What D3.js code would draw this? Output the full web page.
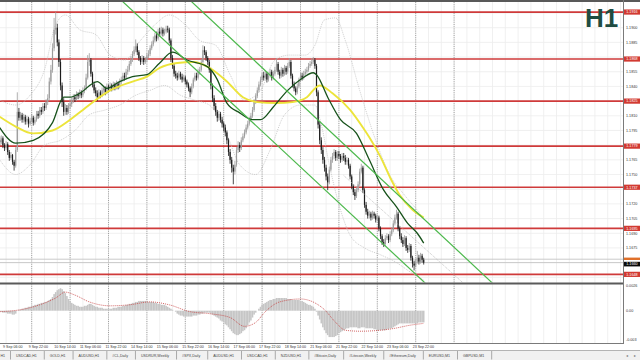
<!DOCTYPE html>
<html>
<head>
<meta charset="utf-8">
<script src="https://cdn.jsdelivr.net/npm/d3@7"></script>
<style>
  html, body { margin: 0; padding: 0; background: #fff; }
  svg { display: block; font-family: "Liberation Sans", Arial, sans-serif; }
</style>
</head>
<body>
<div id="chart"></div>
<script>
(function () {

  // Layout
  const W = 640, H = 360
  const axisX = 623
  const main = { top: 2, bottom: 282.5 }
  const sub = { top: 285, bottom: 343 }

  // ---- data (prices in pips above 1.1600, one value per H1 bar) ----
  const firstOpen = 185
  const closes = [
    183,187,180,177,181,173,167,170,163,159,
    175,214,208,211,206,209,204,207,202,205,
    208,203,206,212,210,216,214,220,218,224,
    228,245,257,279,298,300,285,265,241,224,
    214,218,214,220,222,226,229,227,232,230,
    234,231,236,238,249,265,267,253,242,236,
    233,229,234,231,236,238,234,240,237,241,
    238,242,239,243,240,245,247,251,249,255,
    257,263,267,273,277,281,275,269,265,269,
    265,267,271,273,279,283,287,292,289,296,
    294,298,294,296,299,298,287,269,261,253,
    251,249,253,250,247,249,245,242,238,234,
    240,247,251,249,255,257,265,277,275,269,
    265,257,241,228,220,214,208,212,206,202,
    198,193,185,173,165,157,153,160,175,180,
    177,185,189,193,198,202,206,210,216,224,
    230,236,242,247,251,249,253,247,251,255,
    249,253,257,263,255,251,257,253,259,255,
    261,265,251,242,238,234,240,247,251,249,
    253,255,257,261,263,265,267,261,234,201,
    185,175,165,157,148,142,155,165,169,173,
    167,171,169,165,169,167,163,165,159,148,
    138,132,128,134,140,153,157,134,119,112,
    108,110,106,110,108,104,106,95,87,81,
    79,85,87,83,89,93,100,106,110,95,
    87,83,79,85,75,73,77,65,59,57,
    61,65,61,67,63,60
  ]
  const highs = [
    189,190,189,182,184,183,175,173,171,165,
    178,234,218,214,213,212,211,210,209,208,
    212,210,209,215,215,219,219,223,223,227,
    232,249,262,284,310,316,304,288,268,244,
    228,222,221,223,226,229,232,232,235,234,
    237,236,239,241,253,272,274,269,255,245,
    239,236,237,236,239,241,240,243,242,244,
    243,245,244,246,245,248,250,254,254,258,
    261,266,271,276,281,288,284,277,271,272,
    271,270,274,277,282,286,291,295,296,299,
    300,301,300,299,302,302,300,289,272,263,
    256,254,256,255,253,252,251,247,244,240,
    243,249,254,254,258,260,268,282,281,277,
    271,267,259,243,231,223,216,215,214,209,
    204,201,195,187,176,168,160,164,178,184,
    183,188,192,196,201,205,209,213,219,227,
    233,239,245,250,254,255,256,255,254,258,
    257,256,260,269,265,257,260,259,262,261,
    264,269,267,253,245,240,243,249,254,254,
    256,258,260,264,266,269,270,269,263,236,
    204,188,178,168,160,151,158,168,172,176,
    175,174,174,171,172,172,170,168,167,161,
    150,140,135,137,143,156,161,159,136,122,
    115,113,112,113,112,110,109,108,97,89,
    84,88,90,89,92,96,103,109,114,112,
    97,90,86,88,87,78,80,79,67,62,
    64,72,68,70,69,65
  ]
  const lows = [
    180,181,177,174,175,170,164,165,160,154,
    157,173,205,205,203,203,201,201,198,200,
    203,200,201,204,207,208,211,212,215,216,
    221,226,242,254,276,293,281,260,236,219,
    210,211,211,212,217,219,223,224,225,227,
    228,228,229,233,236,247,261,250,239,233,
    230,225,227,228,229,233,231,232,234,235,
    235,236,236,237,237,238,242,245,246,247,
    252,255,261,265,271,275,272,266,262,263,
    262,263,265,269,271,277,281,285,286,287,
    291,292,291,292,294,295,284,265,258,250,
    248,246,247,247,244,245,242,239,235,229,
    232,238,245,246,247,252,255,263,272,266,
    262,254,237,224,216,210,204,205,203,198,
    194,189,181,169,161,152,140,150,158,172,
    173,175,183,187,191,196,200,204,208,214,
    222,228,234,240,245,246,247,244,245,249,
    246,247,251,255,252,248,249,250,251,252,
    253,259,248,239,235,231,232,238,245,246,
    247,251,253,255,259,261,263,258,230,197,
    181,171,161,153,144,134,140,153,162,166,
    164,164,166,162,163,164,160,160,156,145,
    135,129,124,126,132,138,151,131,116,109,
    105,105,103,104,105,101,102,92,84,78,
    76,77,83,80,81,87,91,98,104,92,
    84,80,76,77,72,70,71,62,55,52,
    55,59,58,59,60,58
  ]

  // moving averages and bands, [bar, pips]
  const maFast = [[0,198],[10,182],[21,185],[33,203],[40,229],[44,229],[50,233],[61,245],[67,238],
    [75,245],[83,250],[92,252],[100,264],[108,275],[117,267],[130,260],[136,247],[142,223],[150,213],
    [158,206],[163,206],[171,219],[180,236],[188,247],[196,254],[198,252],[205,229],[213,206],
    [223,192],[231,165],[240,134],[248,117],[255,100],[261,90],[265,80]]
  const maSlow = [[0,209],[10,199],[21,192],[33,195],[44,206],[52,216],[69,236],[83,245],[92,250],
    [100,259],[111,264],[121,265],[130,260],[133,257],[142,245],[152,229],[161,224],[173,223],
    [183,224],[192,229],[197,238],[200,241],[208,233],[219,216],[227,198],[231,188],[238,168],
    [244,147],[250,129],[258,114],[265,106]]
  const bandUpper = [[0,226],[10,221],[19,231],[28,257],[35,303],[41,313],[50,298],[60,293],[69,272],
    [78,267],[88,287],[97,303],[106,313],[116,303],[125,287],[135,282],[144,252],[153,226],[163,236],
    [172,267],[181,272],[191,272],[197,282],[203,308],[210,310],[216,287],[225,236],[235,185],
    [244,149],[253,129],[263,109],[265,104]]
  const bandLower = [[0,165],[10,150],[19,160],[28,180],[38,185],[47,195],[56,211],[66,216],[75,221],
    [85,231],[94,236],[103,241],[113,231],[122,226],[131,221],[141,195],[150,160],[160,150],
    [169,175],[178,211],[188,221],[197,221],[201,201],[206,160],[213,114],[219,88],[228,75],
    [238,68],[247,61],[257,50],[265,42]]

  // MACD histogram (x 0.0001) per bar, signal line [bar, value]
  const macdHist = [
    -1,-1,-2,-2,-2,-3,-3,-3,-4,-4,
    -3,0,1,
    1,2,2,3,3,4,4,5,5,6,6,7,7,
    8,8,9,9,10,11,12,14,17,19,21,22,23,22,
    20,18,15,12,10,8,7,6,5,5,4,
    4,4,5,5,6,7,7,6,5,4,4,3,
    3,3,2,2,2,2,2,2,3,3,3,4,4,
    4,5,5,6,6,7,7,8,8,9,9,10,10,10,10,
    10,10,9,9,9,9,8,8,7,7,
    6,6,6,5,4,3,2,1,0,-1,
    -3,-4,-5,-5,-6,-6,-6,-6,
    -6,-6,-5,-5,-5,-4,-4,-3,-3,-2,-2,-2,-2,
    -3,-4,-5,-6,-7,-8,-10,-11,-12,-14,-15,-17,-19,-21,-23,-24,-25,-25,-24,
    -23,-21,-20,-18,-15,-12,-10,-7,-4,-2,0,2,
    4,6,7,8,9,10,11,11,12,12,13,13,13,13,
    13,13,13,12,12,12,11,11,11,11,11,10,10,9,8,7,6,
    6,5,4,2,-1,-5,
    -9,-13,-17,-20,-23,-25,-27,-27,
    -27,-27,-26,-25,-23,-22,-21,-20,
    -19,-18,-18,-17,-17,-17,-17,-17,-18,-18,-17,-17,-17,-18,
    -18,-18,-18,-18,-19,-19,-20,-20,-20,-20,-20,
    -20,-19,-19,-18,-18,-17,-16,-15,-14,-13,
    -13,-13,-13,-13,-13,-13,-13,-13,-13,-13,-13,-12,-12,-12,-12
  ]
  const macdSignal = [[0,-1],[13,1],[25,6],[35,13],[41,19],[47,16],[56,9],[69,5],[81,6],[94,9],
    [106,6],[119,-1],[131,-3],[144,-7],[153,-16],[160,-12],[166,-1],[175,9],[188,12],[197,8],
    [203,1],[210,-12],[216,-20],[225,-21],[238,-20],[247,-18],[256,-15],[265,-13]]

  // drawn objects
  const levels = [1.1916, 1.1868, 1.1825, 1.1779, 1.1737, 1.1695, 1.1648]
  const channelLines = [[[76, 1.1928], [266, 1.1639]], [[119, 1.1928], [308, 1.1639]]]
  const channelMid = [[215, 1.1749], [300, 1.1624]]
  const bidPrice = 1.1660
  const askPrice = 1.16635

  // axis labels
  const priceTicks = ["1.1915","1.1900","1.1885","1.1870","1.1855","1.1840","1.1825","1.1810","1.1795",
    "1.1780","1.1765","1.1750","1.1735","1.1720","1.1705","1.1690","1.1675","1.1660","1.1645"]
  const timeLabels = ["9 Sep 06:00","9 Sep 22:00","10 Sep 14:00","11 Sep 06:00","11 Sep 22:00",
    "14 Sep 14:00","15 Sep 06:00","15 Sep 22:00","16 Sep 14:00","17 Sep 06:00","17 Sep 22:00",
    "18 Sep 14:00","21 Sep 06:00","21 Sep 22:00","22 Sep 14:00","23 Sep 06:00","23 Sep 22:00"]
  const macdTicks = [["0.0026", 0.0026], ["0.00", 0], ["-0.003", -0.003]]
  const tabs = ["H1","USDCAD,H1","GOLD,H1","AUDUSD,H1","#CL,Daily","USDRUR,Weekly","#SPX,Daily",
    "AUDUSD,H1","USDCAD,H1","NZDUSD,H1","#Bitcoin,Daily","#Litecoin,Weekly","#Ethereum,Daily",
    "EURUSD,M1","GBPUSD,M1"]

  const px = v => 1.16 + v / 10000

  // Scales
  const x = d3.scaleLinear().domain([0, 265]).range([-0.3, 423.7])
  const y = d3.scaleLinear().domain([1.1645, 1.1900]).range([277.3, 27.7])
  const ym = d3.scaleLinear().domain([-0.003, 0.0026]).range([340, 285.3])

  const svg = d3.select("#chart").append("svg")
      .attr("width", W)
      .attr("height", H)

  svg.append("rect").attr("width", W).attr("height", H).attr("fill", "#fff")

  const defs = svg.append("defs")
  defs.append("clipPath").attr("id", "clipMain").append("rect")
    .attr("x", 0).attr("y", main.top).attr("width", axisX).attr("height", main.bottom - main.top)
  defs.append("clipPath").attr("id", "clipSub").append("rect")
    .attr("x", 0).attr("y", sub.top).attr("width", axisX).attr("height", sub.bottom - sub.top)

  // Grid
  const grid = svg.append("g")
  grid.selectAll(".vmin")
    .data(d3.range(-4, 392, 8))
    .join("line")
    .attr("x1", d => x(d)).attr("x2", d => x(d))
    .attr("y1", main.top).attr("y2", sub.bottom)
    .attr("stroke", "#ececec").attr("stroke-width", 0.8)
  grid.selectAll(".hmin")
    .data(priceTicks)
    .join("line")
    .attr("x1", 0).attr("x2", axisX)
    .attr("y1", d => y(+d)).attr("y2", d => y(+d))
    .attr("stroke", "#ececec").attr("stroke-width", 0.8)
  grid.selectAll(".vsep")
    .data(d3.range(20, 290, 24))
    .join("line")
    .attr("x1", d => x(d)).attr("x2", d => x(d))
    .attr("y1", main.top).attr("y2", sub.bottom)
    .attr("stroke", "#8a8a8a").attr("stroke-width", 0.8)
    .attr("stroke-dasharray", "1,1.2")

  // Main pane
  const g = svg.append("g").attr("clip-path", "url(#clipMain)")

  // bid / ask lines
  g.selectAll(".bidask")
    .data([askPrice, bidPrice])
    .join("line")
    .attr("x1", 0).attr("x2", axisX)
    .attr("y1", d => y(d)).attr("y2", d => y(d))
    .attr("stroke", "#c4c4c4").attr("stroke-width", 0.9)

  // Support / resistance levels
  g.selectAll(".level")
    .data(levels)
    .join("line")
    .attr("x1", 0).attr("x2", axisX)
    .attr("y1", d => y(d)).attr("y2", d => y(d))
    .attr("stroke", "#cf3a3a").attr("stroke-width", 1.7)

  const line = d3.line()
    .x(d => x(d[0]))
    .y(d => y(px(d[1])))
    .curve(d3.curveMonotoneX)

  // Bands
  g.selectAll(".band")
    .data([bandUpper, bandLower])
    .join("path")
    .attr("d", line)
    .attr("fill", "none")
    .attr("stroke", "#c2c2c2").attr("stroke-width", 0.8)
    .attr("stroke-dasharray", "1,1")

  // Candles
  const bars = closes.map((c, i) => ({
    i: i,
    o: px(i ? closes[i - 1] : firstOpen),
    c: px(c),
    h: px(highs[i]),
    l: px(lows[i])
  }))
  const candleColor = d => d.c >= d.o ? "#9c9c9c" : "#1c1c1c"

  g.selectAll(".wick")
    .data(bars)
    .join("line")
    .attr("x1", d => x(d.i)).attr("x2", d => x(d.i))
    .attr("y1", d => y(d.h)).attr("y2", d => y(d.l))
    .attr("stroke", candleColor).attr("stroke-width", 0.8)
  g.selectAll(".body")
    .data(bars)
    .join("rect")
    .attr("x", d => x(d.i) - 0.6)
    .attr("width", 1.2)
    .attr("y", d => y(Math.max(d.o, d.c)))
    .attr("height", d => Math.max(0.7, Math.abs(y(d.o) - y(d.c))))
    .attr("fill", candleColor)

  // Moving averages
  g.append("path")
    .attr("d", line(maSlow))
    .attr("fill", "none")
    .attr("stroke", "#ece43a").attr("stroke-width", 1.9)
  g.append("path")
    .attr("d", line(maFast))
    .attr("fill", "none")
    .attr("stroke", "#17521b").attr("stroke-width", 1.3)

  // Channel
  const straight = d3.line().x(d => x(d[0])).y(d => y(d[1]))
  g.selectAll(".channel")
    .data(channelLines)
    .join("path")
    .attr("d", straight)
    .attr("stroke", "#4cb84c").attr("stroke-width", 1.2)
  g.append("path")
    .attr("d", straight(channelMid))
    .attr("stroke", "#b8b8b8").attr("stroke-width", 0.8)
    .attr("stroke-dasharray", "1,1")

  // MACD pane
  const m = svg.append("g").attr("clip-path", "url(#clipSub)")
  m.selectAll(".hist")
    .data(macdHist)
    .join("rect")
    .attr("x", (d, i) => x(i) - 0.8)
    .attr("width", 1.6)
    .attr("y", d => Math.min(ym(0), ym(d / 10000)))
    .attr("height", d => Math.abs(ym(d / 10000) - ym(0)))
    .attr("fill", "#c6c6c6")
  m.append("path")
    .attr("d", d3.line().x(d => x(d[0])).y(d => ym(d[1] / 10000)).curve(d3.curveMonotoneX)(macdSignal))
    .attr("fill", "none")
    .attr("stroke", "#c64040").attr("stroke-width", 0.8)
    .attr("stroke-dasharray", "1,1")

  // Frame
  svg.append("rect").attr("x", 0).attr("y", 0).attr("width", W).attr("height", 2).attr("fill", "#595959")
  svg.append("rect").attr("x", 0).attr("y", main.bottom).attr("width", axisX).attr("height", 2).attr("fill", "#5a5a5a")
  svg.append("line").attr("x1", 0).attr("x2", axisX).attr("y1", sub.bottom + 0.5).attr("y2", sub.bottom + 0.5)
    .attr("stroke", "#7a7a7a")
  svg.append("rect").attr("x", axisX).attr("y", 2).attr("width", W - axisX).attr("height", sub.bottom - 1)
    .attr("fill", "#fff")
  svg.append("line").attr("x1", axisX + 0.5).attr("x2", axisX + 0.5).attr("y1", 0).attr("y2", sub.bottom + 1)
    .attr("stroke", "#7a7a7a")

  // Price axis labels (those under a level / price tag stay hidden, as in the terminal)
  const tagYs = levels.concat([bidPrice]).map(v => y(v))
  svg.selectAll(".ptick")
    .data(priceTicks.filter(d => tagYs.every(t => Math.abs(t - y(+d)) > 4.6)))
    .join("text")
    .attr("x", axisX + 3)
    .attr("y", d => y(+d) + 1.3)
    .attr("font-size", 3.7)
    .attr("fill", "#333")
    .text(d => d)

  // level tags
  const tag = svg.selectAll(".tag")
    .data(levels)
    .join("g")
    .attr("transform", d => `translate(${axisX + 1},${y(d)})`)
  tag.append("rect").attr("x", 0).attr("y", -2.6).attr("width", W - axisX - 1).attr("height", 5.2)
    .attr("fill", "#d23a32")
  tag.append("text").attr("x", 2.3).attr("y", 1.3).attr("font-size", 3.7).attr("fill", "#fff")
    .text(d => d.toFixed(4))

  // ask / bid tags
  svg.append("rect").attr("x", axisX + 1).attr("y", y(askPrice) - 1.6).attr("width", W - axisX - 1).attr("height", 2.4)
    .attr("fill", "#e0702a")
  svg.append("rect").attr("x", axisX + 1).attr("y", y(bidPrice) - 0.8).attr("width", W - axisX - 1).attr("height", 4.6)
    .attr("fill", "#0a0a0a")
  svg.append("text").attr("x", axisX + 3.3).attr("y", y(bidPrice) + 2.7).attr("font-size", 3.7).attr("fill", "#fff")
    .text(bidPrice.toFixed(4))

  // MACD axis labels
  svg.selectAll(".mtick")
    .data(macdTicks)
    .join("text")
    .attr("x", axisX + 3)
    .attr("y", d => ym(d[1]) + 1.3)
    .attr("font-size", 3.7)
    .attr("fill", "#333")
    .text(d => d[0])

  // Time axis labels
  svg.selectAll(".ttick")
    .data(timeLabels)
    .join("text")
    .attr("x", (d, k) => x(4 + 16 * k) - 3)
    .attr("y", 348.3)
    .attr("font-size", 3.6)
    .attr("fill", "#333")
    .text(d => d)

  // Timeframe badge
  svg.append("text")
    .attr("x", 585).attr("y", 27)
    .attr("font-size", 26).attr("font-weight", "bold")
    .attr("fill", "#1f4c42")
    .text("H1")

  // Tab strip
  const tabBar = svg.append("g")
  tabBar.append("rect").attr("x", 0).attr("y", 350).attr("width", W).attr("height", 10).attr("fill", "#f1f1f1")
  tabBar.append("line").attr("x1", 0).attr("x2", W).attr("y1", 350.5).attr("y2", 350.5).attr("stroke", "#b4b4b4")
  let cursor = 0.5
  tabs.forEach((t, k) => {
    const txt = tabBar.append("text")
      .attr("x", cursor).attr("y", 356.8)
      .attr("font-size", 3.6).attr("fill", "#444")
      .text(t)
    const w = txt.node().getComputedTextLength()
    const sep = k === 0 ? 10 : cursor + w + 7
    tabBar.append("line").attr("x1", sep + 0.5).attr("x2", sep + 0.5).attr("y1", 351).attr("y2", 359.5)
      .attr("stroke", "#a9a9a9")
    cursor = sep + 6
  })
  tabBar.selectAll(".arrow")
    .data(["\u25C2", "\u25B8"])
    .join("text")
    .attr("x", (d, k) => 626 + k * 8)
    .attr("y", 357)
    .attr("font-size", 4)
    .attr("font-family", "DejaVu Sans")
    .attr("fill", "#777")
    .text(d => d)

})();
</script>
</body>
</html>
